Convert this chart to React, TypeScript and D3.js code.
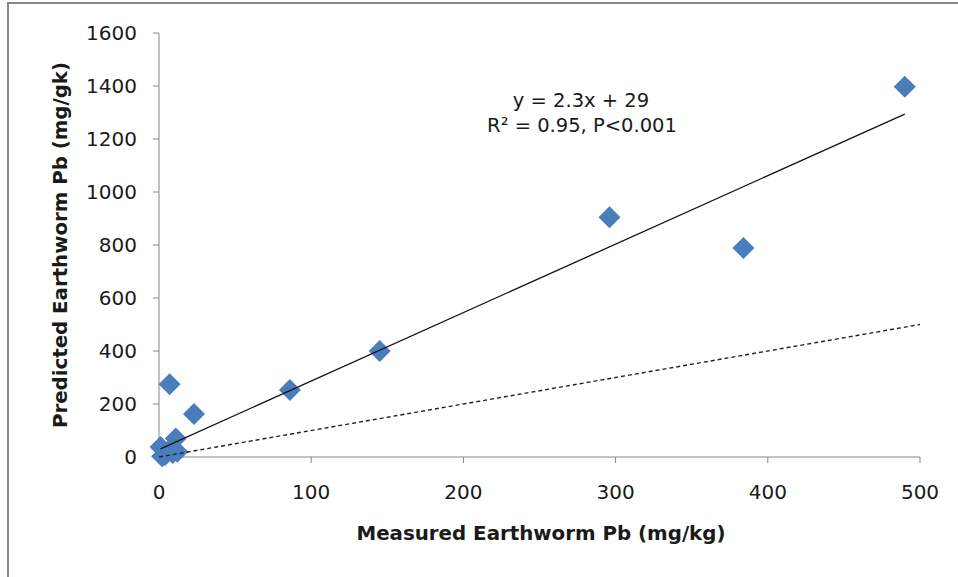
import React from "react";
import * as d3 from "d3";

const measured = [1, 2, 4, 6, 9, 12, 11, 7, 23, 86, 145, 296, 384, 490];
const predicted = [38, 3, 8, 22, 15, 20, 70, 275, 162, 253, 400, 905, 789, 1397];

const xTicks = [0, 100, 200, 300, 400, 500];
const yTicks = [0, 200, 400, 600, 800, 1000, 1200, 1400, 1600];

const trendX = [1, 490];
const trendY = [31, 1294];
const oneToOneX = [0, 500];
const oneToOneY = [0, 500];

const xTitle = "Measured Earthworm Pb (mg/kg)";
const yTitle = "Predicted Earthworm Pb (mg/gk)";
const eqLine1 = "y = 2.3x + 29";
const eqLine2 = "R² = 0.95, P<0.001";

const W = 958;
const H = 577;
const FONT = "'DejaVu Sans', sans-serif";

export default function App() {
  const x = d3.scaleLinear().domain([0, 500]).range([159, 920]);
  const y = d3.scaleLinear().domain([0, 1600]).range([457, 33]);
  const line = d3
    .line<[number, number]>()
    .x((d) => x(d[0]))
    .y((d) => y(d[1]));
  const r = 11;
  const diamond = (cx: number, cy: number) =>
    `M${cx},${cy - r}L${cx + r},${cy}L${cx},${cy + r}L${cx - r},${cy}Z`;

  const axisColor = "#868686";
  return (
    <svg
      width={W}
      height={H}
      style={{ position: "absolute", left: 0, top: 0, background: "#fff" }}
    >
      <rect x={8} y={3} width={980} height={600} fill="#fff" stroke="#878787" strokeWidth={2} />
      {/* y axis */}
      <line x1={x(0)} x2={x(0)} y1={y(1600)} y2={y(0)} stroke={axisColor} strokeWidth={1} />
      {yTicks.map((t) => (
        <g key={"y" + t}>
          <line x1={x(0) - 6} x2={x(0)} y1={y(t)} y2={y(t)} stroke={axisColor} strokeWidth={1} />
          <text
            x={137}
            y={y(t)}
            dy="0.36em"
            textAnchor="end"
            fontFamily={FONT}
            fontSize={20}
            fill="#1a1a1a"
          >
            {t}
          </text>
        </g>
      ))}
      {/* x axis */}
      <line x1={x(0)} x2={x(500)} y1={y(0)} y2={y(0)} stroke={axisColor} strokeWidth={1} />
      {xTicks.map((t) => (
        <g key={"x" + t}>
          <line x1={x(t)} x2={x(t)} y1={y(0)} y2={y(0) + 6} stroke={axisColor} strokeWidth={1} />
          <text
            x={x(t)}
            y={499}
            textAnchor="middle"
            fontFamily={FONT}
            fontSize={20}
            fill="#1a1a1a"
          >
            {t}
          </text>
        </g>
      ))}
      {/* points */}
      {measured.map((m, i) => (
        <path key={"p" + i} d={diamond(x(m), y(predicted[i]))} fill="#4a7ebb" />
      ))}
      {/* 1:1 line */}
      <path
        d={line(oneToOneX.map((v, i) => [v, oneToOneY[i]]) as [number, number][]) || ""}
        stroke="#222"
        strokeWidth={1.4}
        strokeDasharray="4,3"
        fill="none"
      />
      {/* trend line */}
      <path
        d={line(trendX.map((v, i) => [v, trendY[i]]) as [number, number][]) || ""}
        stroke="#111"
        strokeWidth={1.3}
        fill="none"
      />
      {/* equation */}
      <text x={581} y={107} textAnchor="middle" fontFamily={FONT} fontSize={19.5} fill="#1a1a1a">
        {eqLine1}
      </text>
      <text x={582} y={132} textAnchor="middle" fontFamily={FONT} fontSize={19.5} fill="#1a1a1a">
        {eqLine2}
      </text>
      {/* titles */}
      <text
        x={541}
        y={540}
        textAnchor="middle"
        fontFamily={FONT}
        fontSize={19}
        fontWeight="bold"
        fill="#1a1a1a"
        textLength={369}
        lengthAdjust="spacingAndGlyphs"
      >
        {xTitle}
      </text>
      <text
        transform={`translate(67,245) rotate(-90)`}
        textAnchor="middle"
        fontFamily={FONT}
        fontSize={19}
        fontWeight="bold"
        fill="#1a1a1a"
        textLength={366}
        lengthAdjust="spacingAndGlyphs"
      >
        {yTitle}
      </text>
    </svg>
  );
}
